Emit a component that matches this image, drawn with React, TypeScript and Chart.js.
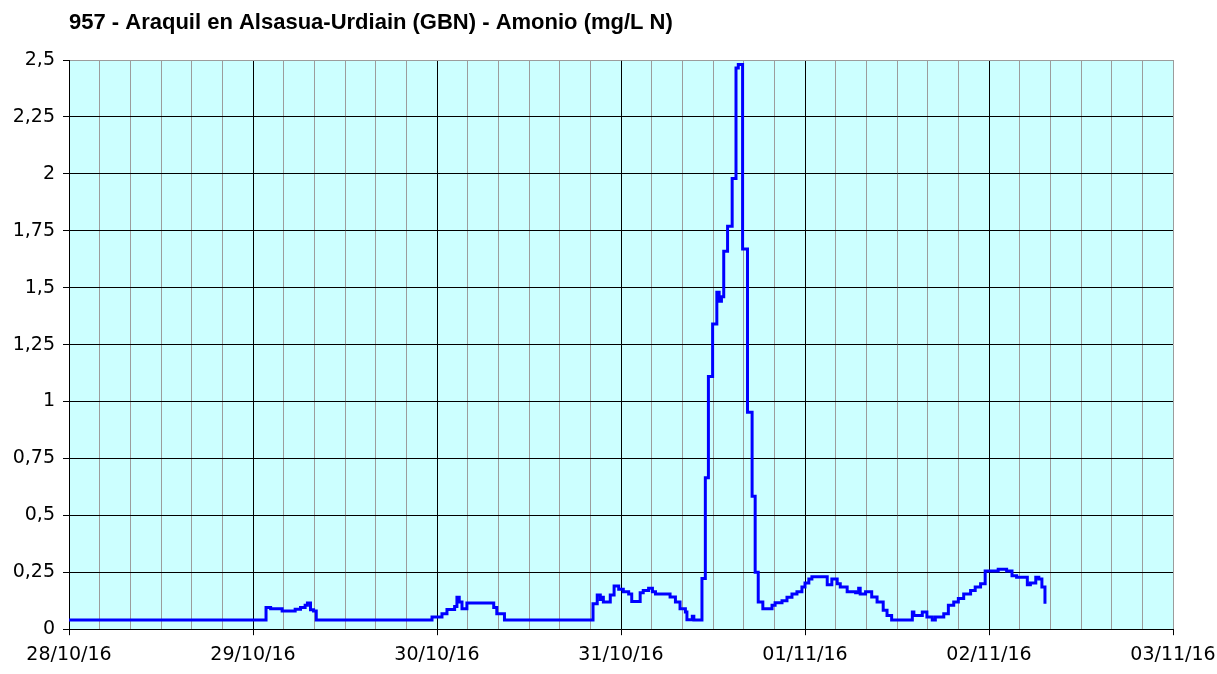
import React, { useEffect, useRef } from "react";
import { Chart, registerables } from "chart.js";

Chart.register(...registerables);

const TITLE = "957 - Araquil en Alsasua-Urdiain (GBN) - Amonio (mg/L N)";

// hours since 28/10/16 00:00 at which each level starts
const hours = [
  0, 25.7, 26.3, 27.8, 29.5, 30.2, 30.8, 31.1, 31.5, 31.9, 32.25,
  47.35, 48.65, 49.3, 50.3, 50.6, 50.9, 51.26, 51.9, 55.4, 55.8, 56.8,
  68.35, 68.9, 69.3, 69.5, 69.7, 70.6, 71.1, 71.7, 72.3, 73.0, 73.4, 74.5, 74.9,
  75.6, 76.1, 76.5, 78.4, 79.1, 79.7, 80.4, 80.6, 81.3, 81.5,
  82.56, 83.0, 83.4, 83.95, 84.5, 84.8, 85.1, 85.4, 85.9, 86.5, 87.0, 87.3,
  87.86, 88.5, 89.1, 89.5, 89.9, 90.5,
  91.7, 92.1, 93.0, 93.65, 94.3, 94.95, 95.6, 96.0, 96.5, 96.9, 98.9, 99.5,
  100.2, 100.6, 101.5, 102.6, 103.0, 103.2, 103.9, 104.7, 105.4, 106.2, 106.7,
  107.3, 110.0, 110.2, 111.3, 111.9, 112.6, 113.0, 114.1, 114.7, 115.4, 116.0,
  116.7, 117.6, 118.2, 118.9, 119.5, 121.2, 122.3, 123.0, 123.6, 125.0, 125.4,
  126.1, 126.5, 126.9, 127.3,
];

// ammonium (mg/L N), level holding from the matching hour onwards
const ammonia = [
  0.04, 0.095, 0.09, 0.08, 0.088, 0.095, 0.105, 0.115, 0.085, 0.08, 0.04,
  0.054, 0.068, 0.087, 0.1, 0.14, 0.12, 0.09, 0.115, 0.095, 0.068, 0.04,
  0.112, 0.15, 0.13, 0.14, 0.12, 0.15, 0.19, 0.176, 0.165, 0.155, 0.122, 0.16, 0.17,
  0.18, 0.165, 0.155, 0.141, 0.12, 0.09, 0.076, 0.042, 0.057, 0.04,
  0.223, 0.665, 1.11, 1.34, 1.48, 1.44, 1.46, 1.66, 1.77, 1.98, 2.465, 2.48,
  1.67, 0.953, 0.584, 0.25, 0.119, 0.09,
  0.105, 0.116, 0.125, 0.14, 0.155, 0.165, 0.185, 0.203, 0.22, 0.23, 0.195, 0.22,
  0.2, 0.185, 0.165, 0.16, 0.18, 0.155, 0.165, 0.141, 0.12, 0.083, 0.06,
  0.04, 0.076, 0.06, 0.075, 0.054, 0.04, 0.054, 0.068, 0.105, 0.12, 0.135,
  0.155, 0.17, 0.185, 0.2, 0.256, 0.263, 0.256, 0.235, 0.228, 0.195, 0.203,
  0.228, 0.22, 0.185, 0.112,
];

const dateLabels = ["28/10/16", "29/10/16", "30/10/16", "31/10/16", "01/11/16", "02/11/16", "03/11/16"];

const X_MAX = 144;
const Y_MAX = 2.5;
const GRAY = "#9c9c9c";
const AXIS_FONT = { family: "DejaVu Sans", size: 19 };

const plotBackground = {
  id: "plotBackground",
  beforeDraw(chart: any) {
    const { ctx, chartArea } = chart;
    ctx.save();
    ctx.fillStyle = "#ccffff";
    ctx.fillRect(chartArea.left, chartArea.top, chartArea.right - chartArea.left, chartArea.bottom - chartArea.top);
    ctx.restore();
  },
};

export default function App() {
  const ref = useRef<HTMLCanvasElement | null>(null);

  useEffect(() => {
    if (!ref.current) return;
    const chart = new Chart(ref.current, {
      type: "line",
      data: {
        datasets: [
          {
            data: hours.map((h, i) => ({ x: h, y: ammonia[i] })),
            borderColor: "#0000ff",
            borderWidth: 3,
            pointRadius: 0,
            stepped: "before",
            fill: false,
          },
        ],
      },
      options: {
        animation: false,
        responsive: false,
        devicePixelRatio: 1,
        layout: { padding: { left: 0, right: 0, top: 0, bottom: 0 } },
        plugins: {
          legend: { display: false },
          tooltip: { enabled: false },
          title: {
            display: true,
            text: TITLE,
            align: "start",
            fullSize: false,
            color: "#000",
            font: { family: "Liberation Sans", size: 22, weight: "bold" },
            padding: { top: 10, bottom: 23.6 },
          },
        },
        scales: {
          x: {
            type: "linear",
            min: 0,
            max: X_MAX,
            ticks: {
              stepSize: 4,
              autoSkip: false,
              maxRotation: 0,
              color: "#000",
              font: AXIS_FONT,
              padding: 8,
              callback: (v: any) => (Number(v) % 24 === 0 ? dateLabels[Number(v) / 24] : ""),
            },
            grid: {
              color: (c: any) => {
                const v = c.tick ? c.tick.value : 0;
                if (v === X_MAX) return GRAY;
                return v % 24 === 0 ? "#000" : GRAY;
              },
              tickColor: (c: any) => {
                const v = c.tick ? c.tick.value : 0;
                return v % 24 === 0 ? "#000" : "rgba(0,0,0,0)";
              },
              lineWidth: 1,
              tickLength: 6,
            },
            border: { color: "#000", width: 1 },
            afterFit: (scale: any) => {
              scale.paddingRight = 44;
            },
          },
          y: {
            min: 0,
            max: Y_MAX,
            ticks: {
              stepSize: 0.25,
              color: "#000",
              font: AXIS_FONT,
              padding: 8,
              callback: (v: any) => String(v).replace(".", ","),
            },
            grid: {
              color: (c: any) => (c.tick && c.tick.value === Y_MAX ? GRAY : "#000"),
              tickColor: "#000",
              lineWidth: 1,
              tickLength: 6,
            },
            border: { color: "#000", width: 1 },
            afterFit: (scale: any) => {
              scale.width = 69;
            },
          },
        },
      },
      plugins: [plotBackground],
    } as any);
    return () => chart.destroy();
  }, []);

  return (
    <div style={{ position: "absolute", left: 0, top: 0, width: 1217, height: 674, background: "#fff" }}>
      <canvas ref={ref} width={1217} height={674} />
    </div>
  );
}
